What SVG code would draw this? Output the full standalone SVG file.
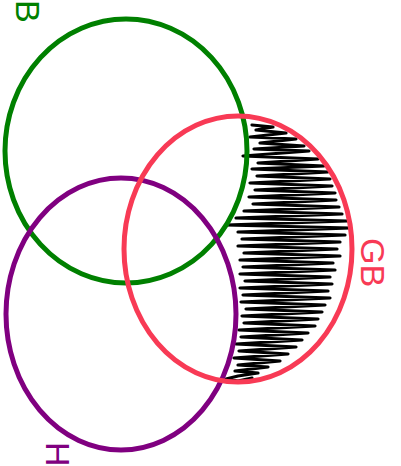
<svg xmlns="http://www.w3.org/2000/svg" width="401" height="466" viewBox="0 0 401 466">
<style>
.c{fill:none;stroke-width:5}
.lbl{font-family:"Liberation Sans",Arial,sans-serif;font-size:34px}
</style>
<rect width="401" height="466" fill="#ffffff"/>
<g id="scribble">
<path fill="none" stroke="#000" stroke-width="3.2" stroke-linejoin="round" stroke-linecap="round" d="M252,125 L273,127 L256,130 L286,133 L250,137 L296,139 L260,143 L304,146 L254,149 L309,151 L243,156 L318,159 L258,163 L324,166 L252,169 L328,172 L257,176 L330,179 L250,183 L332,186 L255,190 L335,193 L249,197 L336,200 L253,204 L339,207 L244,211 L342,214 L236,218 L347,221 L226,225 L350,228 L238,232 L345,235 L242,239 L340,242 L238,246 L337,249 L244,253 L340,256 L240,260 L333,263 L243,267 L335,270 L240,274 L330,277 L245,281 L332,284 L240,288 L328,291 L243,295 L330,298 L241,302 L325,305 L246,309 L322,312 L242,316 L318,319 L244,323 L315,326 L239,330 L308,333 L241,337 L302,340 L236,344 L296,347 L239,351 L288,354 L234,358 L280,361 L238,365 L268,367 L235,371 L258,373 L238,376 L226,379 L238,381 L252,378"/>
</g>
<g id="B">
<ellipse class="c" cx="126" cy="151" rx="121" ry="132" stroke="#008000"/>
<text class="lbl" fill="#008000" transform="translate(16,0) rotate(90)">B</text>
</g>
<g id="H">
<ellipse class="c" cx="121" cy="314" rx="115" ry="136" stroke="#800080"/>
<text class="lbl" fill="#800080" transform="translate(46,442) rotate(90)" font-size="20">H</text>
</g>
<g id="GB">
<ellipse class="c" cx="238" cy="249" rx="114" ry="133" stroke="#f83a55"/>
<text class="lbl" fill="#f83a55" transform="translate(361,238) rotate(90)">GB</text>
</g>
</svg>
